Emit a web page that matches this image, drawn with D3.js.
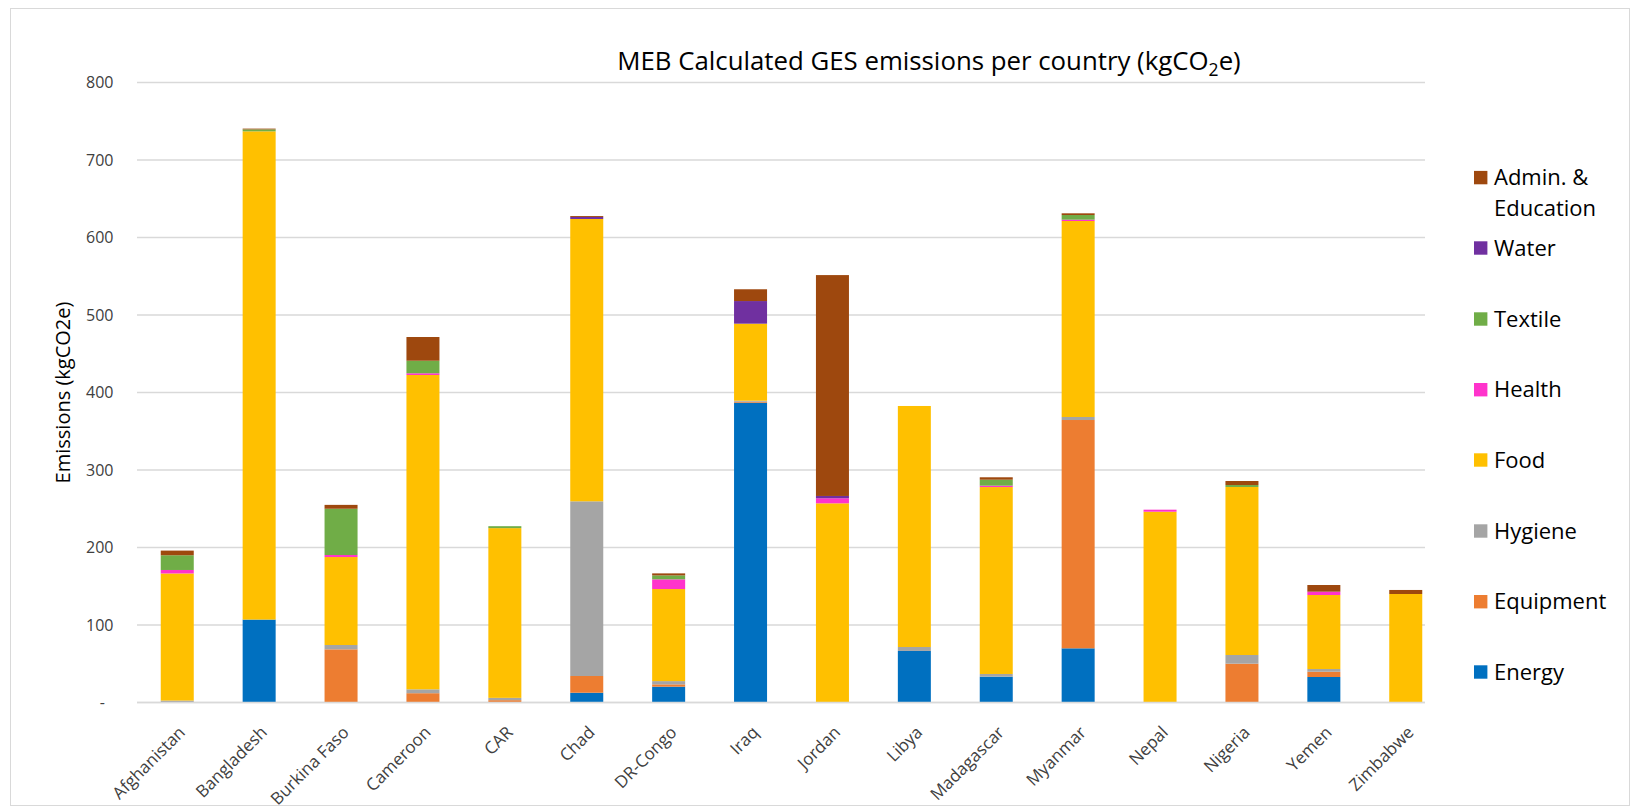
<!DOCTYPE html>
<html>
<head>
<meta charset="utf-8">
<script src="https://cdn.jsdelivr.net/npm/d3@7"></script>
<style>
  html, body { margin: 0; padding: 0; background: #fff; }
  svg { display: block; font-family: "Open Sans", Lato, "Liberation Sans", sans-serif; }
</style>
</head>
<body>
<svg id="chart" width="1640" height="811"></svg>
<script>
// Countries on the x axis
const countries = ["Afghanistan", "Bangladesh", "Burkina Faso", "Cameroon", "CAR", "Chad",
  "DR-Congo", "Iraq", "Jordan", "Libya", "Madagascar", "Myanmar", "Nepal", "Nigeria", "Yemen", "Zimbabwe"];

// Emission categories, stacked bottom to top
const categories = ["Energy", "Equipment", "Hygiene", "Food", "Health", "Textile", "Water", "Admin. & Education"];
const categoryColors = ["#0070C0", "#ED7D31", "#A5A5A5", "#FFC000", "#FF33CC", "#70AD47", "#7030A0", "#9E480E"];

// kgCO2e per country for each category (same order as countries)
const energy    = [0, 107, 0, 0, 0, 12.6, 20.4, 386.8, 0, 66.5, 33.3, 69.9, 0, 0, 32.9, 0];
const equipment = [0, 0, 68.6, 12, 3, 21.6, 3, 1.3, 0, 0, 0, 294.6, 0, 50.1, 6.8, 0];
const hygiene   = [2.5, 0, 5.6, 5, 3, 225.4, 4.2, 1.3, 0, 5.1, 3.5, 3.9, 0, 11.2, 3.5, 0];
const food      = [164, 630, 113.5, 405.6, 219, 364.3, 118.8, 99.4, 257, 311, 241.2, 252.9, 246.2, 216.8, 95.5, 140];
const health    = [4.5, 0, 2.6, 2.2, 0, 0, 12.5, 0, 6.5, 0, 1.8, 1.7, 2.6, 0, 4.3, 0];
const textile   = [19, 2.5, 59.7, 16.2, 2.5, 0, 5.1, 0, 0, 0, 7.7, 6, 0, 2.5, 0, 0];
const water     = [0, 0, 0, 0, 0, 2.6, 0, 29.2, 3, 0, 0, 0, 0, 0, 0, 0];
const admin     = [6, 1, 5, 30.6, 0, 1.2, 2.6, 15.2, 285, 0, 3.1, 2.2, 0, 5.2, 8.6, 5.2];

// Y axis ticks
const yTicks = [0, 100, 200, 300, 400, 500, 600, 700, 800];

const seriesValues = [energy, equipment, hygiene, food, health, textile, water, admin];

const rows = countries.map((c, i) => {
  const row = { country: c };
  categories.forEach((k, j) => { row[k] = seriesValues[j][i]; });
  return row;
});

const svg = d3.select("#chart");

// Outer chart frame
svg.append("rect")
  .attr("x", 10.5).attr("y", 8.5).attr("width", 1619).attr("height", 797)
  .attr("fill", "none").attr("stroke", "#d9d9d9").attr("stroke-width", 1);

const x = d3.scaleBand()
  .domain(countries)
  .range([136.3, 1446.7])
  .paddingInner(0.597)
  .paddingOuter(0.2985);

const y = d3.scaleLinear().domain([0, 800]).range([702.5, 82.5]);

const gridLeft = 137, gridRight = 1425;

// Gridlines
svg.append("g")
  .selectAll("line")
  .data(yTicks)
  .join("line")
  .attr("x1", gridLeft).attr("x2", gridRight)
  .attr("y1", d => y(d)).attr("y2", d => y(d))
  .attr("stroke", "#d9d9d9")
  .attr("stroke-width", 1.5);

// Y axis labels
const yAxis = d3.axisLeft(y)
  .tickValues(yTicks)
  .tickSize(0)
  .tickPadding(0)
  .tickFormat(d => d === 0 ? "-" : d3.format("d")(d));

const yG = svg.append("g").attr("transform", "translate(113.5,0)").call(yAxis);
yG.select(".domain").remove();
yG.selectAll("text")
  .attr("font-size", 16)
  .attr("fill", "#404040")
  .attr("font-family", "'Open Sans', sans-serif")
  .attr("dx", d => d === 0 ? -8.5 : 0);

// Y axis title
svg.append("text")
  .attr("transform", "translate(70,392.5) rotate(-90)")
  .attr("text-anchor", "middle")
  .attr("font-size", 20)
  .attr("fill", "#000")
  .text("Emissions (kgCO2e)");

// Stacked bars
const stack = d3.stack().keys(categories);
const stacked = stack(rows);

svg.append("g")
  .selectAll("g")
  .data(stacked)
  .join("g")
  .attr("fill", (d, i) => categoryColors[i])
  .selectAll("rect")
  .data(d => d.filter(s => s[1] - s[0] > 0))
  .join("rect")
  .attr("x", d => x(d.data.country))
  .attr("width", x.bandwidth())
  .attr("y", d => y(d[1]))
  .attr("height", d => y(d[0]) - y(d[1]));

// X axis
const xAxis = d3.axisBottom(x).tickSize(0).tickPadding(0);
const xG = svg.append("g").attr("transform", "translate(0,702.5)").call(xAxis);
xG.select(".domain").attr("stroke", "#d9d9d9").attr("stroke-width", 1.5)
  .attr("d", `M${gridLeft},0H${gridRight}`);
xG.selectAll("text")
  .attr("font-size", 17)
  .attr("fill", "#404040")
  .attr("font-family", "'Open Sans', sans-serif")
  .attr("text-anchor", "end")
  .attr("dy", null)
  .attr("y", 0)
  .attr("transform", "translate(9,31) rotate(-45)");

// Title with subscript
const title = svg.append("text")
  .attr("x", 929).attr("y", 70)
  .attr("text-anchor", "middle")
  .attr("font-size", 25.8)
  .attr("fill", "#000");
title.append("tspan").text("MEB Calculated GES emissions per country (kgCO");
title.append("tspan").attr("font-size", 17.5).attr("dy", 6).text("2");
title.append("tspan").attr("dy", -6).text("e)");

// Legend, top item is the last stacked category
const legendItems = categories.map((c, i) => ({ name: c, color: categoryColors[i] })).reverse();
const legendY = [177.6, 248, 319, 389.7, 460, 531, 601.7, 672];
const legend = svg.append("g");
legendItems.forEach((d, i) => {
  const g = legend.append("g").attr("transform", `translate(1474,${legendY[i]})`);
  g.append("rect").attr("x", 0).attr("y", -6.7).attr("width", 13.4).attr("height", 13.4).attr("fill", d.color);
  const t = g.append("text").attr("x", 20).attr("y", 7.5).attr("font-size", 22).attr("fill", "#000");
  if (d.name === "Admin. & Education") {
    t.append("tspan").attr("x", 20).text("Admin. &");
    t.append("tspan").attr("x", 20).attr("dy", 31).text("Education");
  } else {
    t.text(d.name);
  }
});
</script>
</body>
</html>
